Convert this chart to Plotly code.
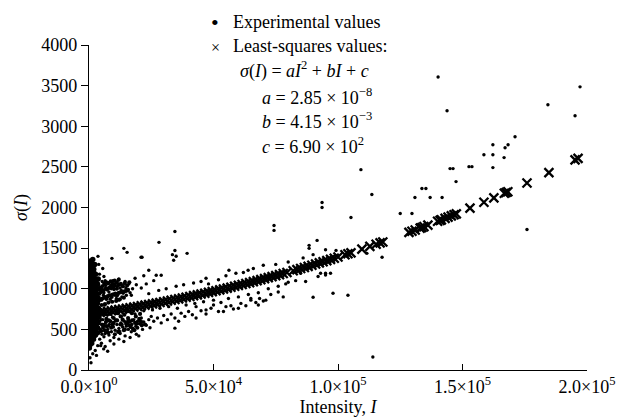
import plotly.graph_objects as go

# ---------------- data ----------------
# Least-squares values (crosses)
lsq_I = [0, 1500, 3000, 4500, 6000, 7500, 9000, 10500, 12000, 13500, 15000, 16500, 18000, 19500,
         21000, 22500, 24000, 25500, 27000, 28500, 30000, 31500, 33000, 34500, 36000, 37500, 39000,
         40500, 42000, 43500, 45000, 46500, 48000, 49500, 51000, 52500, 54000, 55500, 57000, 58500,
         60000, 61500, 63000, 64500, 66000, 67500, 69000, 70500, 72000, 73500, 75000, 76500, 78000, 79500,
         82000, 83500, 85000, 86500, 88000, 89500, 91000, 92500, 94000, 95500, 97000, 98500, 100000,
         102800, 104000, 105200, 109600, 112800, 115300, 116900, 118000,
         128500, 129700, 131000, 133000, 133700, 134500, 136100, 140000, 141000, 141500, 143000, 144200,
         145500, 146600, 147500,
         153000, 158600, 162600, 166800, 167500, 168200, 175900, 184700, 195200, 196400]
lsq_S = [690, 696, 703, 709, 716, 723, 730, 737, 744, 751, 759, 766, 774, 782, 790, 798, 806, 814, 823, 831,
         840, 849, 858, 867, 876, 886, 895, 905, 915, 925, 935, 945, 955, 965, 976, 986, 997, 1008, 1019, 1030,
         1042, 1053, 1065, 1076, 1088, 1100, 1112, 1124, 1137, 1149, 1162, 1174, 1187, 1200,
         1222, 1235, 1249, 1262, 1276, 1290, 1304, 1318, 1332, 1346, 1361, 1375, 1390,
         1418, 1430, 1442, 1487, 1521, 1547, 1565, 1576,
         1694, 1708, 1723, 1746, 1754, 1764, 1783, 1830, 1842, 1848, 1866, 1881, 1897, 1911, 1922,
         1992, 2065, 2118, 2175, 2185, 2194, 2302, 2429, 2586, 2604]

# Experimental values: dense cluster at very low intensity
blob_I = [150, 420, 250, 600, 180, 500, 300, 700, 200, 450, 120, 650, 350, 550, 150, 400, 700, 250, 500, 180,
          620, 350, 150, 480, 260, 600, 200, 380,
          1100, 900, 1300, 1000, 1250, 850, 1150, 950, 1350, 1050, 900, 1200, 1000, 1300, 850, 1150, 950, 1250,
          1050, 900, 1200, 1000, 1300, 1100, 950, 1200,
          1800, 2050, 1700, 2000, 1850, 2150, 1750, 1950, 2100, 1800, 2000, 1700, 2150, 1900, 2050, 1750, 2000,
          1850, 2100, 1800, 2000, 1900,
          2600, 2850, 2500, 2800, 2650, 2900, 2550, 2750, 2950, 2600, 2800, 2700, 2900, 2550, 2800, 2650, 2900,
          2700, 2600,
          3400, 3200, 3600, 3300, 3500, 3700, 3350, 3550, 3250, 3600, 3400, 3700,
          500, 1500, 2300, 800]
blob_S = [270, 310, 350, 385, 420, 455, 490, 520, 560, 600, 640, 675, 710, 750, 790, 830, 865, 900, 940, 980,
          1015, 1050, 1090, 1130, 1170, 1210, 1250, 1290,
          330, 370, 410, 450, 490, 525, 565, 605, 645, 680, 720, 760, 795, 830, 870, 905, 945, 985,
          1020, 1060, 1100, 1140, 1180, 1225, 1265, 1310,
          380, 420, 460, 500, 540, 580, 620, 660, 700, 740, 780, 820, 860, 900, 940, 980, 1020,
          1060, 1100, 1140, 1190, 1240,
          430, 470, 510, 550, 590, 630, 670, 710, 750, 790, 830, 870, 910, 950, 990, 1030, 1070,
          1120, 1180,
          460, 520, 580, 640, 700, 760, 820, 880, 940, 1000, 1060, 1120,
          1340, 1360, 1300, 1210]

# Experimental values just right of the cluster
near_I = [4300, 5200, 4600, 6100, 4800, 5600, 4400, 6300, 5000, 5800, 4500, 6600, 5300, 7200, 7800, 6900,
          7500, 8000, 7000, 4200, 5500, 3900, 6000, 4700, 5900]
near_S = [380, 440, 500, 560, 620, 680, 740, 800, 860, 920, 980, 1040, 1090, 470, 540, 620,
          900, 960, 1010, 1180, 1250, 1300, 1150, 300, 260]

# Dense wedge of experimental values just above the band at low intensity
wedge_I = [3900, 4700, 5400, 6200, 6900, 7600, 8300, 9100, 9800, 10600, 11300, 12100, 12900, 13700, 14600, 15500,
           4200, 5000, 5800, 6600, 7300, 8100, 8900, 9700, 10400, 11200, 12000, 12800, 13600, 14400, 15300, 16200,
           4500, 5300, 6100, 7000, 7900, 8700, 9500, 10300, 11100, 11900,
           5100, 6400, 7800, 9300, 10900, 12400, 14000]
wedge_S = [850, 870, 880, 900, 880, 910, 920, 900, 930, 940, 920, 950, 960, 950, 970, 980,
           940, 960, 980, 1000, 990, 1010, 1030, 1020, 1040, 1000, 1050, 1060, 1030, 1070, 1040, 1080,
           1010, 1030, 1060, 1080, 1070, 1090, 1060, 1100, 1080, 1110,
           800, 810, 830, 840, 850, 870, 890]

# Experimental values above the fitted band
upper_I = [8500, 9200, 10000, 8800, 11000, 11800, 12500, 10500, 13200, 14000, 13500, 15000, 15800, 16500,
           9600, 12000, 14500, 17500, 19000, 21000, 23000, 26000, 18500, 22000,
           24000, 28000, 31000, 35000, 38000, 42000, 45000, 48000, 52000, 55000, 59000, 62000, 66000, 70000,
           75000, 80000, 86000, 90000, 95000,
           4000, 5000, 6000, 7000, 7500, 9000, 10500, 12000, 13000, 3800, 6500, 11500, 14800, 16000, 17000]
upper_S = [870, 930, 990, 1040, 880, 950, 1010, 1060, 900, 970, 1040, 920, 990, 950,
           1100, 1120, 1090, 1000, 1050, 1010, 1060, 1100, 1130, 1160,
           940, 980, 1000, 1030, 1050, 1070, 1090, 1060, 1110, 1160, 1190, 1200, 1250, 1290,
           1300, 1330, 1380, 1420, 1480,
           900, 1000, 950, 870, 1060, 1000, 920, 860, 980, 1050, 1100, 1030, 1010, 1060, 920]

# Experimental values below the fitted band (second, lower population and scatter)
lower_I = [4500, 5500, 6500, 7500, 8200, 9000, 9800, 10500, 11200, 12000, 12800, 13500, 14200, 15000, 15800,
           16500, 17200, 18000, 18800, 19500, 20300, 21000, 22000, 23000, 24000, 25000, 26000, 27500, 29000,
           30000, 31500, 33000, 34500, 36000, 37000, 38500, 40000, 41500, 43000, 45000, 47000, 49000, 52000,
           55000, 58000, 61000, 63000, 65000, 67000, 68500, 70000,
           6000, 8000, 10000, 12500, 14500, 17000, 19000, 21500, 24500,
           5500, 7000, 9500, 11500, 13000, 16000, 18500, 22000, 25500, 28500, 32000, 35500, 39000, 42500,
           46000, 50000, 53000, 56000, 60000, 64000, 68000, 72000, 76000, 79000, 83000, 87000, 92000, 95000, 97000,
           400, 800, 1500, 2500, 3500, 5000, 6500, 8500, 10000, 12000, 14000, 7500, 3000, 16500, 20000,
           43000, 47000, 50000, 54000, 57000, 60000, 65000, 68000, 71000, 73000, 76000, 78000, 80000, 34500]
lower_S = [470, 520, 450, 500, 560, 470, 530, 490, 560, 510, 580, 530, 600, 540, 500,
           590, 560, 620, 540, 600, 570, 640, 590, 550, 620, 660, 600, 640, 580,
           670, 620, 690, 640, 600, 700, 660, 720, 680, 640, 730, 690, 760, 720,
           780, 750, 820, 790, 860, 830, 880, 850,
           410, 430, 400, 450, 420, 470, 440, 500, 520,
           620, 680, 650, 700, 660, 720, 690, 730, 740, 760, 780, 760, 800, 820,
           840, 860, 830, 880, 900, 930, 950, 1000, 1030, 1060, 1100, 1090, 1150, 1170, 1190,
           150, 90, 200, 240, 300, 330, 290, 360, 320, 380, 350, 230, 180, 400, 420,
           780, 740, 800, 720, 790, 760, 880, 800, 860, 930, 960, 900, 1080, 515]

# Denser part of the lower population at low intensity
lowpop_I = [3800, 4900, 5800, 6800, 7700, 8600, 9500, 10400, 11300, 12200, 13100, 14000, 14900, 15800, 16700,
            17600, 18500, 19400, 20300, 21200,
            4100, 5200, 6200, 7100, 8000, 8900, 9900, 10800, 11700, 12600, 13500, 14400, 15400, 16300, 17300,
            18200, 19200, 20200, 21100, 22500,
            4200, 5600, 7000, 8400, 9900, 11300, 12700, 14200, 15700, 17200, 18800, 20500, 6300, 9100, 12000, 15000]
lowpop_S = [520, 480, 540, 590, 460, 600, 560, 440, 610, 470, 560, 490, 570, 610, 530,
            510, 580, 520, 610, 550,
            600, 560, 490, 540, 610, 520, 580, 610, 470, 560, 620, 500, 580, 550, 610,
            490, 570, 630, 590, 560,
            650, 700, 630, 690, 640, 700, 660, 680, 640, 700, 660, 690, 720, 730, 740, 720]

# Sparse experimental outliers
out_I = [140200, 197200, 184300, 195200, 143800, 171100, 162200, 168300, 167100, 158600, 162200, 166700,
         152600, 153800, 162200, 145000, 146200, 147400, 109200, 133700, 135300, 130900, 137000, 141800,
         93600, 93600, 113600, 105200, 129700, 125000, 175900, 117700, 111600, 90000, 98000, 104000, 114000,
         88400, 74300, 74300, 34500, 28100, 14000, 15300, 20900, 21300, 34000, 34500, 33500, 35000, 39400,
         3600, 9200, 91600, 88400, 99200, 56200, 63900, 47000, 24000, 27000, 29000, 85000, 93000, 95000, 88000]
out_S = [3607, 3485, 3264, 3129, 3190, 2871, 2773, 2773, 2736, 2650, 2650, 2614,
         2503, 2503, 2491, 2479, 2479, 2319, 2466, 2233, 2233, 2123, 2123, 2123,
         2061, 2000, 2160, 1877, 1926, 1926, 1730, 1387, 1436, 896, 945, 920, 160,
         1534, 1779, 1718, 1705, 1571, 1497, 1448, 1387, 1387, 1350, 1470, 1420, 1400, 1436,
         1399, 1374, 1595, 1497, 1472, 1227, 1227, 1129, 1227, 1166, 1166, 1190, 1190, 1190, 1250]

x_tickvals = [0, 50000, 100000, 150000, 200000]
x_ticktext = ["0.0×10<sup>0</sup>", "5.0×10<sup>4</sup>", "1.0×10<sup>5</sup>",
              "1.5×10<sup>5</sup>", "2.0×10<sup>5</sup>"]
y_tickvals = [0, 500, 1000, 1500, 2000, 2500, 3000, 3500, 4000]

for a, b in [(lsq_I, lsq_S), (blob_I, blob_S), (near_I, near_S), (wedge_I, wedge_S), (upper_I, upper_S),
             (lower_I, lower_S), (lowpop_I, lowpop_S), (out_I, out_S)]:
    assert len(a) == len(b), (len(a), len(b))

# ---------------- figure ----------------
FONT = "Liberation Serif, Times New Roman, serif"
W, H = 622, 417
L, R, T, B = 89, 35, 45, 47

mid_I = wedge_I + lowpop_I
mid_S = wedge_S + lowpop_S
exp_I = near_I + upper_I + lower_I + out_I
exp_S = near_S + upper_S + lower_S + out_S

fig = go.Figure()
fig.add_trace(go.Scatter(
    x=blob_I, y=blob_S, mode="markers", name="Experimental values", showlegend=False,
    marker=dict(symbol="circle", size=5.5, color="black", line=dict(width=0)),
    hoverinfo="skip"))
fig.add_trace(go.Scatter(
    x=mid_I, y=mid_S, mode="markers", name="Experimental values", showlegend=False,
    marker=dict(symbol="circle", size=4.2, color="black", line=dict(width=0)),
    hoverinfo="skip"))
fig.add_trace(go.Scatter(
    x=exp_I, y=exp_S, mode="markers", name="Experimental values", showlegend=False,
    marker=dict(symbol="circle", size=3.4, color="black", line=dict(width=0)),
    hoverinfo="skip"))
fig.add_trace(go.Scatter(
    x=lsq_I, y=lsq_S, mode="markers", name="Least-squares values", showlegend=False,
    marker=dict(symbol="x-thin", size=9, color="black", line=dict(width=2.3, color="black")),
    hoverinfo="skip"))


def px_x(px):
    return (px - L) / (W - L - R)


def px_y(py):
    return (H - B - py) / (H - T - B)


ann_font = dict(family=FONT, size=18, color="black")
annotations = [
    dict(text="•", x=px_x(215), y=px_y(22), font=dict(family=FONT, size=22, color="black")),
    dict(text="Experimental values", x=px_x(231), y=px_y(22), xanchor="left"),
    dict(text="×", x=px_x(215), y=px_y(47), font=dict(family=FONT, size=16, color="black")),
    dict(text="Least-squares values:", x=px_x(231), y=px_y(46), xanchor="left"),
    dict(text="<i>σ</i>(<i>I</i>) = <i>aI</i><sup>2</sup> + <i>bI</i> + <i>c</i>",
         x=px_x(238), y=px_y(70), xanchor="left"),
    dict(text="<i>a</i> = 2.85 × 10<sup>−8</sup>", x=px_x(260), y=px_y(96), xanchor="left"),
    dict(text="<i>b</i> = 4.15 × 10<sup>−3</sup>", x=px_x(260), y=px_y(121), xanchor="left"),
    dict(text="<i>c</i> = 6.90 × 10<sup>2</sup>", x=px_x(260), y=px_y(145), xanchor="left"),
]
for a in annotations:
    a.update(xref="paper", yref="paper", showarrow=False)
    a.setdefault("font", ann_font)
    a.setdefault("xanchor", "center")
    a["yanchor"] = "middle"

fig.update_layout(
    width=W, height=H,
    margin=dict(l=L, r=R, t=T, b=B, pad=0),
    paper_bgcolor="white", plot_bgcolor="white",
    font=dict(family=FONT, size=18, color="black"),
    annotations=annotations,
    showlegend=False,
    xaxis=dict(
        range=[0, 200000], showgrid=False, zeroline=False,
        showline=True, linecolor="black", linewidth=1.3,
        ticks="inside", ticklen=6, tickwidth=1.3, tickcolor="black",
        tickvals=x_tickvals, ticktext=x_ticktext,
        tickfont=dict(family=FONT, size=18, color="black"),
        title=dict(text="Intensity, <i>I</i>", font=dict(family=FONT, size=18), standoff=0),
        automargin=False,
    ),
    yaxis=dict(
        range=[0, 4000], showgrid=False, zeroline=False,
        showline=True, linecolor="black", linewidth=1.3,
        ticks="outside", ticklen=7, tickwidth=1.3, tickcolor="black",
        tickvals=y_tickvals,
        tickfont=dict(family=FONT, size=18, color="black"),
        title=dict(text="<i>σ</i>(<i>I</i>)", font=dict(family=FONT, size=18), standoff=8),
        automargin=False,
    ),
)

fig.write_html("out.html", config={"displayModeBar": False},
               post_script="document.body.style.margin='0px';document.body.style.overflow='hidden';")
